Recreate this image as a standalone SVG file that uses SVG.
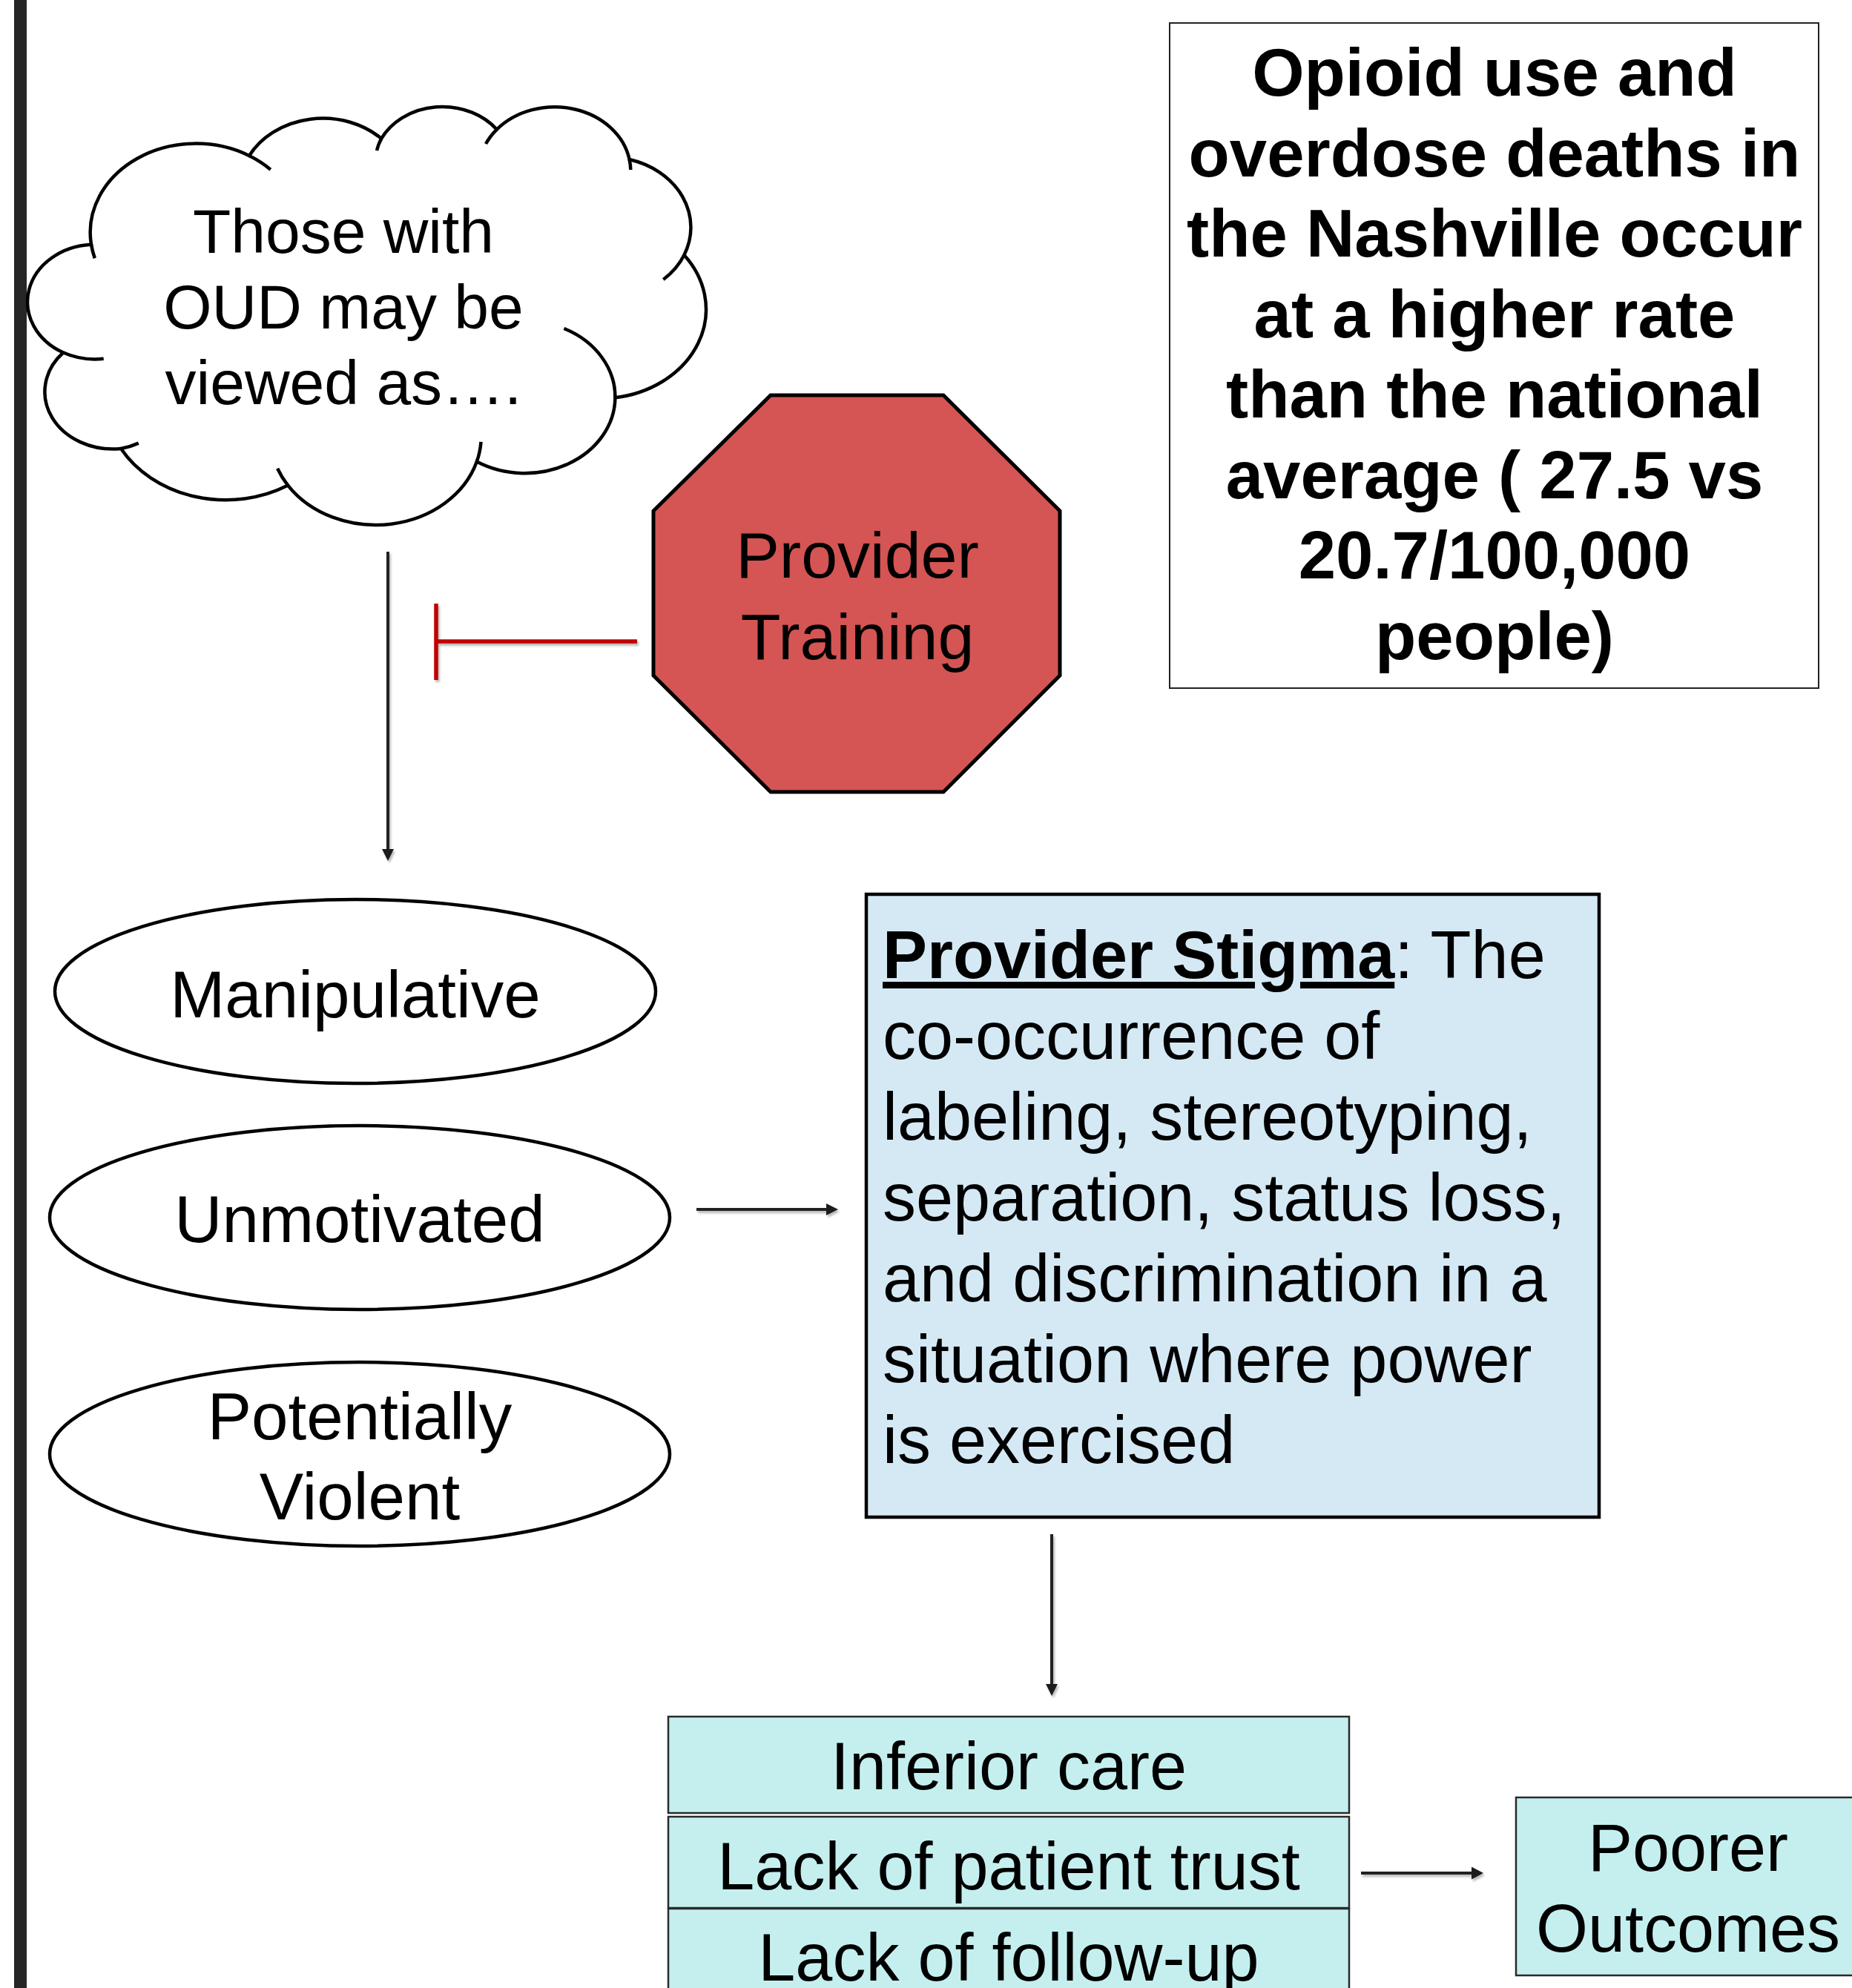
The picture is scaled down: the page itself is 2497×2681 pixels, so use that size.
<svg xmlns="http://www.w3.org/2000/svg" width="2497" height="2681" viewBox="0 0 2497 2681">
<defs>
<style>
text{font-family:"Liberation Sans",Arial,Helvetica,sans-serif;fill:#000}
.f84{font-size:84px}
.f88{font-size:88px}
.f89{font-size:89px}
.f90{font-size:90px}
.fb{font-size:90.5px;font-weight:bold}
.bold{font-weight:bold}
.mid{text-anchor:middle}
.cloudline{fill:none;stroke:#000;stroke-width:4.5;stroke-linecap:butt}
.ell{fill:#fff;stroke:#000;stroke-width:4.5}
.cell{fill:#C5EFEF;stroke:#2a2a2a;stroke-width:2.5}
.conn{stroke:#222;stroke-width:4;fill:none}
</style>
<marker id="ah" viewBox="0 0 16 16" refX="0" refY="8" markerWidth="16" markerHeight="16" markerUnits="userSpaceOnUse" orient="auto"><path d="M0,0 L16,8 L0,16 Z" fill="#1e1e1e"/></marker>
<marker id="ah2" viewBox="0 0 16 16" refX="0" refY="8" markerWidth="16" markerHeight="17" markerUnits="userSpaceOnUse" orient="auto" preserveAspectRatio="none"><path d="M0,0 L16,8 L0,16 Z" fill="#1e1e1e"/></marker>
<filter id="sh" filterUnits="userSpaceOnUse" x="0" y="0" width="2497" height="2681"><feDropShadow dx="2" dy="3" stdDeviation="1.5" flood-color="#000" flood-opacity="0.28"/></filter>
</defs>
<rect x="0" y="0" width="2497" height="2681" fill="#fff"/>
<rect id="left-bar" x="19" y="0" width="17" height="2681" fill="#262626"/>

<g id="cloud">
<path fill="#fff" class="cloudline" d="M123 329.7 A142.4 119.9 0 0 1 336 210 A112.4 94.8 0 0 1 514.2 186.9 A92 77.6 0 0 1 669.8 174.6 A102.4 86.1 0 0 1 848.6 215 A112.4 94.9 0 0 1 922.4 343.9 A142.8 120.3 0 0 1 829.4 536.3 A122 102.7 0 0 1 642.8 622.6 A142.4 120.3 0 0 1 388.2 654.6 A162.8 137.6 0 0 1 163.1 605 A91.9 77.2 0 0 1 85.3 475.5 A91.6 77.6 0 0 1 123 329.7 Z"/>
<path class="cloudline" d="M123 329.7 A142.4 119.9 0 0 0 127.8 348.2 M336 210 A142.4 119.9 0 0 1 364.8 228.7 M514.2 186.9 A92 77.6 0 0 0 508 203 M669.8 174.6 A102.4 86.1 0 0 0 655 194 M848.6 215 A102.4 86.1 0 0 1 850.3 229 M922.4 343.9 A112.4 94.9 0 0 1 894.3 377 M829.4 536.3 A122 102.7 0 0 0 760.4 443 M648.5 595.8 A142.4 120.3 0 0 1 642.8 622.6 M388.2 654.6 A142.4 120.3 0 0 1 374.1 631.8 M186.8 597.6 A91.9 77.2 0 0 1 163.1 605 M139.7 483.7 A91.6 77.6 0 0 1 85.3 475.5"/>
<text class="f84 mid" x="463" y="341">Those with</text>
<text class="f84 mid" x="463" y="443">OUD may be</text>
<text class="f84 mid" x="463" y="545">viewed as….</text>
</g>

<g id="provider-training">
<polygon points="1039,533 1272,533 1429,689 1429,911 1272,1068 1039,1068 881,911 881,689" fill="#D45553" stroke="#000" stroke-width="5"/>
<text class="f88 mid" x="1156" y="779">Provider</text>
<text class="f88 mid" x="1156" y="889">Training</text>
</g>

<g id="fact-box">
<rect x="1577" y="31" width="875" height="897" fill="#fff" stroke="#222" stroke-width="2"/>
<text class="fb mid" x="2015" y="129">Opioid use and</text>
<text class="fb mid" x="2015" y="237.5">overdose deaths in</text>
<text class="fb mid" x="2015" y="346">the Nashville occur</text>
<text class="fb mid" x="2015" y="454.5">at a higher rate</text>
<text class="fb mid" x="2015" y="563">than the national</text>
<text class="fb mid" x="2015" y="671.5">average ( 27.5 vs</text>
<text class="fb mid" x="2015" y="780">20.7/100,000</text>
<text class="fb mid" x="2015" y="888.5">people)</text>
</g>

<g id="manipulative">
<ellipse class="ell" cx="479" cy="1337" rx="405" ry="124"/>
<text class="f89 mid" x="479" y="1372">Manipulative</text>
</g>
<g id="unmotivated">
<ellipse class="ell" cx="485" cy="1642" rx="418" ry="124"/>
<text class="f89 mid" x="485" y="1675">Unmotivated</text>
</g>
<g id="potentially-violent">
<ellipse class="ell" cx="485" cy="1961" rx="418" ry="124"/>
<text class="f89 mid" x="485" y="1941">Potentially</text>
<text class="f89 mid" x="485" y="2049">Violent</text>
</g>

<g id="provider-stigma">
<rect x="1168" y="1206" width="988" height="840" fill="#D5E9F5" stroke="#000" stroke-width="4.5"/>
<text class="f90" x="1190" y="1319"><tspan class="bold" text-decoration="underline">Provider Stigma</tspan>: The</text>
<text class="f90" x="1190" y="1428">co-occurrence of</text>
<text class="f90" x="1190" y="1537">labeling, stereotyping,</text>
<text class="f90" x="1190" y="1646">separation, status loss,</text>
<text class="f90" x="1190" y="1755">and discrimination in a</text>
<text class="f90" x="1190" y="1864">situation where power</text>
<text class="f90" x="1190" y="1973">is exercised</text>
</g>

<g id="inferior-care">
<rect class="cell" x="901" y="2315" width="918" height="130"/>
<text class="f90 mid" x="1360" y="2413">Inferior care</text>
</g>
<g id="lack-of-trust">
<rect class="cell" x="901" y="2450" width="918" height="123"/>
<text class="f90 mid" x="1360" y="2548">Lack of patient trust</text>
</g>
<g id="lack-of-follow-up">
<rect class="cell" x="901" y="2574" width="918" height="140"/>
<text class="f90 mid" x="1360" y="2671">Lack of follow-up</text>
</g>

<g id="poorer-outcomes">
<rect class="cell" x="2044" y="2424" width="470" height="240"/>
<text class="f90 mid" x="2276" y="2523">Poorer</text>
<text class="f90 mid" x="2276" y="2632">Outcomes</text>
</g>

<g id="connectors" filter="url(#sh)">
<line class="conn" x1="523" y1="744" x2="523" y2="1145" marker-end="url(#ah)"/>
<line class="conn" x1="939" y1="1631" x2="1114" y2="1631" marker-end="url(#ah)"/>
<line class="conn" x1="1418" y1="2069" x2="1418" y2="2271" marker-end="url(#ah)"/>
<line class="conn" x1="1835" y1="2526" x2="1984" y2="2526" stroke-width="5.5" marker-end="url(#ah2)"/>
<g id="inhibition" stroke="#C00000" stroke-width="5.5">
<line x1="588" y1="865" x2="859" y2="865"/>
<line x1="588" y1="814" x2="588" y2="917"/>
</g>
</g>
</svg>
